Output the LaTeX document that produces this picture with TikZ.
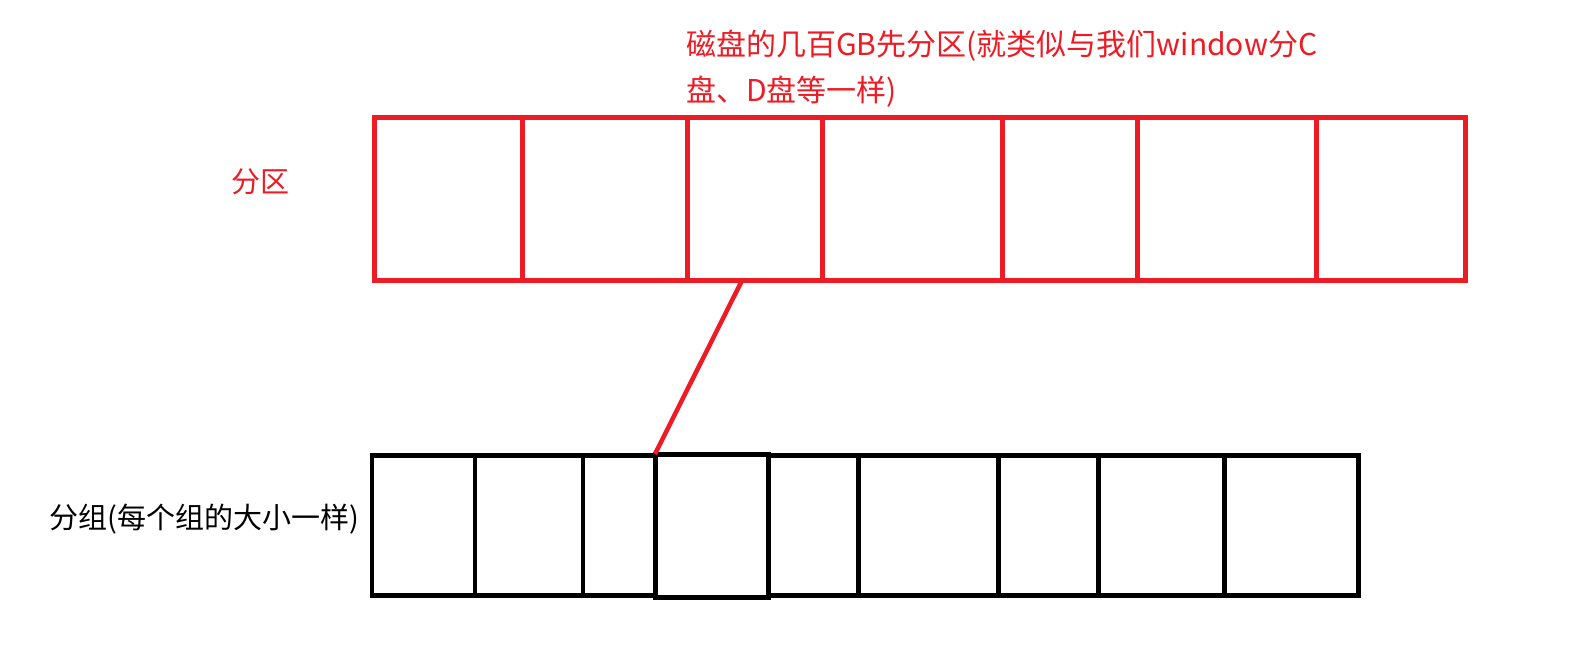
\documentclass[tikz,border=0pt]{standalone}
\usepackage{fontspec}
\newfontfamily\cjk{Noto Sans CJK SC}
\usetikzlibrary{positioning}
\definecolor{paintred}{HTML}{ED1C24}

\begin{document}
\begin{tikzpicture}[x=1pt,y=-1pt,
  part node/.style={rectangle,draw=paintred,line width=5pt,minimum height=163pt,inner sep=0pt,outer sep=0pt},
  group node/.style={rectangle,draw=black,line width=4.5pt,minimum height=140pt,inner sep=0pt,outer sep=0pt},
  label node/.style={font=\cjk\fontsize{29}{45}\selectfont,inner sep=0pt}]
  \useasboundingbox (0,0) rectangle (1591,658);
  % partitions
  \node[part node, minimum width=148.5pt, anchor=north west] (p1) at (374,117.5) {};
  \node[part node, minimum width=165pt] (p2) [right=0pt of p1] {};
  \node[part node, minimum width=135pt] (p3) [right=0pt of p2] {};
  \node[part node, minimum width=180pt] (p4) [right=0pt of p3] {};
  \node[part node, minimum width=135pt] (p5) [right=0pt of p4] {};
  \node[part node, minimum width=179pt] (p6) [right=0pt of p5] {};
  \node[part node, minimum width=148.5pt] (p7) [right=0pt of p6] {};
  % groups
  \node[group node, minimum width=103pt, anchor=north west] (g1) at (372,455.5) {};
  \node[group node, minimum width=108pt] (g2) [right=0pt of g1] {};
  \node[group node, minimum width=72pt] (g3) [right=0pt of g2] {};
  \node[group node, minimum width=113pt, minimum height=143pt, line width=5pt] (g4) [right=0pt of g3] {};
  \node[group node, minimum width=90.6pt] (g5) [right=0pt of g4] {};
  \node[group node, minimum width=140.1pt] (g6) [right=0pt of g5] {};
  \node[group node, minimum width=100pt] (g7) [right=0pt of g6] {};
  \node[group node, minimum width=126pt] (g8) [right=0pt of g7] {};
  \node[group node, minimum width=133.8pt] (g9) [right=0pt of g8] {};
  % labels
  \node[label node, font=\cjk\fontsize{30}{46}\selectfont, text=paintred, align=left, anchor=west] (title) at (686,69) {磁盘的几百GB先分区(就类似与我们window分C\\盘、D盘等一样)};
  \node[label node, text=paintred] (partlabel) at (260,182) {分区};
  \node[label node] (grouplabel) at (204,519) {分组(每个组的大小一样)};
  \path[every edge/.style={draw=paintred,line width=4.5pt}]
     ([xshift=-13pt]p3.south) edge (g4.north west);
\end{tikzpicture}
\end{document}
